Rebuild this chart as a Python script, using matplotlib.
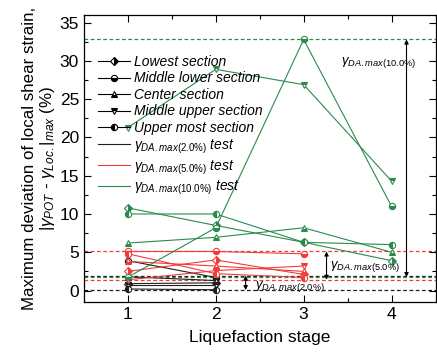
import numpy as np
import matplotlib
matplotlib.use('Agg')
import matplotlib.pyplot as plt
from matplotlib.lines import Line2D
from matplotlib.ticker import MultipleLocator

plt.rcParams['font.family'] = ['Liberation Sans', 'DejaVu Sans']
plt.rcParams['mathtext.fontset'] = 'custom'
plt.rcParams['mathtext.rm'] = 'Liberation Sans'
plt.rcParams['mathtext.it'] = 'Liberation Sans:italic'

stages = [1, 2, 3, 4]
sections = ['Lowest section', 'Middle lower section', 'Center section',
            'Middle upper section', 'Upper most section']

# deviation (%) per section, one list per liquefaction test
dev_2 = [[0.9, 1.0], [3.9, 1.7], [1.8, 1.3], [0.7, 0.7], [0.2, 0.1]]
dev_5 = [[2.5, 4.0, 2.1], [5.1, 5.1, 4.8], [3.8, 3.2, 2.5],
         [1.4, 2.6, 3.2], [4.8, 2.2, 1.7]]
dev_10 = [[10.8, 8.5, 6.3, 3.9], [1.75, 8.2, 32.8, 11.0], [6.2, 6.95, 8.2, 5.0],
          [21.3, 28.9, 26.9, 14.3], [10.0, 10.0, 6.3, 6.0]]

# lower / upper bound of deviation for each test
bounds_2 = [0.05, 1.95]
bounds_5 = [1.4, 5.1]
bounds_10 = [1.75, 32.8]

test_names = ['2.0', '5.0', '10.0']
colors = ['#1e1e1e', '#f23c3c', '#2c8a4c']

markers = [('D', 'right'), ('o', 'bottom'), ('^', 'bottom'), ('v', 'top'), ('o', 'left')]

fig = plt.figure(figsize=(4.37, 3.53), dpi=100)
ax = fig.add_axes([0.192, 0.1445, 0.8046, 0.813])

for data, bnd, col in zip([dev_2, dev_5, dev_10], [bounds_2, bounds_5, bounds_10], colors):
    for b in bnd:
        ax.axhline(b, color=col, lw=0.9, ls=(0, (3, 2)), zorder=1)
    for vals, (m, fs) in zip(data, markers):
        ax.plot(stages[:len(vals)], vals, color=col, lw=0.8, marker=m, fillstyle=fs,
                markersize=4.5, markerfacecolor=col, markerfacecoloralt='white',
                markeredgecolor=col, markeredgewidth=0.8, zorder=3)

# range arrows with labels
arrow_kw = dict(arrowstyle='<|-|>', color='black', lw=0.8, mutation_scale=6,
                shrinkA=0, shrinkB=0)
ax.annotate('', xy=(4.17, bounds_10[1]), xytext=(4.17, bounds_10[0]), arrowprops=arrow_kw)
ax.annotate('', xy=(3.26, bounds_5[1]), xytext=(3.26, bounds_5[0]), arrowprops=arrow_kw)
ax.annotate('', xy=(2.34, bounds_2[1]), xytext=(2.34, bounds_2[0]), arrowprops=arrow_kw)
ax.text(3.43, 29.8, r'$\gamma_{\mathit{DA.max(10.0\%)}}$', fontsize=9.5, va='center')
ax.text(3.3, 3.2, r'$\gamma_{\mathit{DA.max(5.0\%)}}$', fontsize=9.5, va='center')
ax.text(2.45, 0.5, r'$\gamma_{\mathit{DA.max(2.0\%)}}$', fontsize=9.5, va='center')

ax.set_xlim(0.5, 4.5)
ax.set_ylim(-1.5, 36)
ax.xaxis.set_major_locator(MultipleLocator(1))
ax.xaxis.set_minor_locator(MultipleLocator(0.5))
ax.yaxis.set_major_locator(MultipleLocator(5))
ax.yaxis.set_minor_locator(MultipleLocator(2.5))
ax.tick_params(which='both', direction='in', top=True, right=True, labelsize=12.5, width=0.8)
ax.tick_params(which='major', length=5)
ax.tick_params(which='minor', length=3)
for sp in ax.spines.values():
    sp.set_linewidth(0.9)

ax.set_xlabel('Liquefaction stage', fontsize=12.5, labelpad=6)
ax.set_ylabel('Maximum deviation of local shear strain,\n'
              r'$|\gamma_{POT}$ - $\gamma_{Loc.}|_{max}$ (%)', fontsize=12.2,
              linespacing=1.05, labelpad=2)

handles = []
labels = []
for name, (m, fs) in zip(sections, markers):
    handles.append(Line2D([], [], color='black', lw=0.8, marker=m, fillstyle=fs,
                          markersize=4.5, markerfacecolor='black',
                          markerfacecoloralt='white', markeredgewidth=0.8))
    labels.append(name)
for t, col in zip(test_names, colors):
    handles.append(Line2D([], [], color=col, lw=0.8))
    labels.append(r'$\gamma_{\mathit{DA.max(%s\%%)}}$ test' % t)

leg = ax.legend(handles, labels, loc='upper left', bbox_to_anchor=(0.02, 0.885),
                frameon=False, handlelength=2.3, handletextpad=0.3, labelspacing=0.18,
                borderpad=0, prop={'size': 10, 'style': 'italic'})

fig.savefig('out.png', dpi=100)
